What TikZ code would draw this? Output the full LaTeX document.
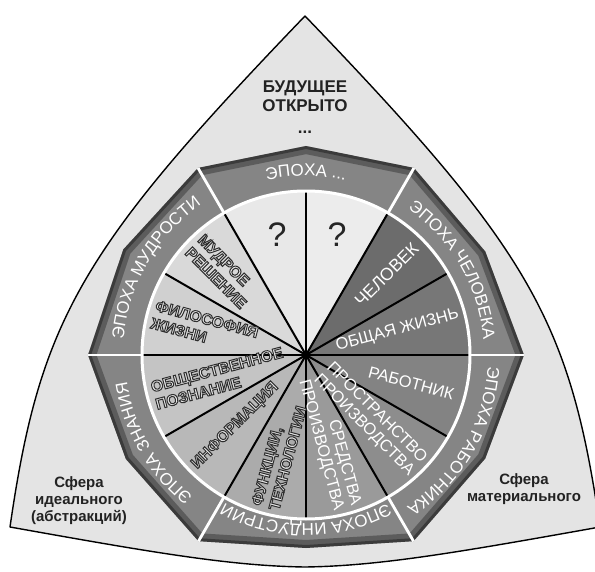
\documentclass[tikz,border=0pt]{standalone}
\usepackage{fontspec}
\setmainfont{Liberation Sans}
\usetikzlibrary{decorations.text}
\definecolor{trifill}{HTML}{E4E4E4}
\definecolor{bandA}{gray}{0.52}
\definecolor{bandB}{gray}{0.36}
\definecolor{bandC}{gray}{0.16}
\definecolor{sA}{HTML}{777777}
\definecolor{sB}{HTML}{6C6C6C}
\definecolor{sC}{HTML}{ECECEC}
\definecolor{sD}{HTML}{E8E8E8}
\definecolor{sE}{HTML}{D9D9D9}
\definecolor{sF}{HTML}{D0D0D0}
\definecolor{sG}{HTML}{C4C4C4}
\definecolor{sH}{HTML}{B8B8B8}
\definecolor{sI}{HTML}{ABABAB}
\definecolor{sJ}{HTML}{9A9A9A}
\definecolor{sK}{HTML}{8D8D8D}
\definecolor{sL}{HTML}{838383}
\definecolor{holfill}{HTML}{E8E8E8}
\definecolor{lbltext}{HTML}{222222}
\pgfdeclareradialshading{bandshade}{\pgfpoint{0bp}{0bp}}{color(0bp)=(bandA); color(42bp)=(bandA); color(45bp)=(bandB); color(48bp)=(bandC); color(50bp)=(black)}
% hollow (outlined) letters: fill light, stroke dark
\newcommand\hol[1]{{\color{holfill}\special{pdf:literal direct 2 Tr 1 w 0.18 G}#1\special{pdf:literal direct 0 Tr}}}
\newcommand\secfont{\fontsize{16.5}{18}\selectfont}
\newcommand\holfont{\bfseries\fontsize{15.5}{18}\selectfont}
\newcommand\epfont{\fontsize{17}{17}\selectfont}
\tikzset{
  wt/.style={text=white, font=\secfont, inner sep=0pt, align=right, anchor=east},
  ht/.style={font=\holfont, inner sep=0pt, align=left, anchor=west},
  spoke/.style={draw=black, line width=2pt},
  sepline/.style={draw=white, line width=2.8pt},
  qm/.style={font=\fontsize{34}{34}\selectfont, text=black!85, inner sep=0pt},
  lbl/.style={font=\bfseries\fontsize{17}{20}\selectfont, text=lbltext, inner sep=0pt, anchor=base},
  slbl/.style={font=\bfseries\fontsize{15}{17}\selectfont, text=lbltext, inner sep=0pt, anchor=base},
  epoch/.style={decorate, decoration={text along path, text align=center, text color=white, text={|\epfont|#1}}}
}
\begin{document}
\begin{tikzpicture}[x=1pt,y=1pt]
\useasboundingbox (-306,-216) rectangle (289,355);
\clip (-306,-216) rectangle (289,355);
% outer curved triangle
\filldraw[fill=trifill, draw=black, line width=1.4pt, line join=round]
 (-1,339) .. controls (-226,105) and (-266,35) .. (-296,-172)
 .. controls (-156,-197) and (-76,-211) .. (-1,-212)
 .. controls (74,-211) and (154,-197) .. (294,-172)
 .. controls (264,35) and (224,105) .. (-1,339) -- cycle;
% epoch band
\begin{scope}
\clip (0:218) -- (30:207) -- (60:216) -- (90:209) -- (120:216) -- (150:211) -- (180:218) -- (210:208) -- (240:215) -- (270:193) -- (300:215) -- (330:207) -- cycle;
\shade[shading=bandshade] (0,0) circle (219);
\draw[black, opacity=0.3, line width=16pt, line join=miter] (0:218) -- (30:207) -- (60:216) -- (90:209) -- (120:216) -- (150:211) -- (180:218) -- (210:208) -- (240:215) -- (270:193) -- (300:215) -- (330:207) -- cycle;
\draw[black, opacity=0.35, line width=6pt, line join=miter] (0:218) -- (30:207) -- (60:216) -- (90:209) -- (120:216) -- (150:211) -- (180:218) -- (210:208) -- (240:215) -- (270:193) -- (300:215) -- (330:207) -- cycle;
\end{scope}
% sectors
\foreach \a/\c in {0/sA,30/sB,60/sC,90/sD,120/sE,150/sF,180/sG,210/sH,240/sI,270/sJ,300/sK,330/sL}
  \fill[\c] (0,0) -- (\a:164) arc[start angle=\a, end angle=\a+30, radius=164] -- cycle;
\foreach \a in {0,30,...,330}
  \draw[spoke] (0,0) -- (\a:164);
\fill[black] (0,0) circle (4.5);
\draw[white, line width=3pt] (0,0) circle (164);
\foreach \a/\r in {0/218,60/216,120/216,180/218,240/215,300/215}
  \draw[sepline] (\a:164) -- (\a:\r);
% epoch texts along the band
\path[epoch={ЭПОХА ...}] (122:179) arc[start angle=122, end angle=58, radius=179];
\path[epoch={ЭПОХА ЧЕЛОВЕКА}] (60:178) arc[start angle=60, end angle=0, radius=178];
\path[epoch={ЭПОХА РАБОТНИКА}] (0:182) arc[start angle=0, end angle=-60, radius=182];
\path[epoch={ЭПОХА ИНДУСТРИИ}] (-60:169) arc[start angle=-60, end angle=-120, radius=169];
\path[epoch={ЭПОХА ЗНАНИЯ}] (-120:181) arc[start angle=-120, end angle=-180, radius=181];
\path[epoch={ЭПОХА МУДРОСТИ}] (180:183) arc[start angle=180, end angle=120, radius=183];
% sector texts, white
\node[wt, rotate=45, font=\fontsize{17.5}{18}\selectfont] (chel) at (45:155) {ЧЕЛОВЕК};
\node[wt, rotate=15] (obzh) at (15:158) {ОБЩАЯ ЖИЗНЬ};
\node[wt, rotate=-15] (rab) at (-15:153) {РАБОТНИК};
\node[wt, rotate=-45] (prost) at (-45:158) {ПРОСТРАНСТВО\\ПРОИЗВОДСТВА};
\node[wt, rotate=-75] (sred) at (-75:158) {СРЕДСТВА\\ПРОИЗВОДСТВА};
% sector texts, hollow
\node[ht, rotate=-45] (mudr) at (135:158) {\hol{МУДРОЕ}\\\hol{РЕШЕНИЕ}};
\node[ht, rotate=-15] (filo) at (165:158) {\hol{ФИЛОСОФИЯ}\\\hol{ЖИЗНИ}};
\node[ht, rotate=15] (obsch) at (195:158) {\hol{ОБЩЕСТВЕННОЕ}\\\hol{ПОЗНАНИЕ}};
\node[ht, rotate=45] (info) at (225:158) {\hol{ИНФОРМАЦИЯ}};
\node[ht, rotate=75] (func) at (255:158) {\hol{ФУНКЦИИ,}\\\hol{ТЕХНОЛОГИИ}};
% question marks
\node[qm] (q1) at (-29,120) {?};
\node[qm] (q2) at (31,120) {?};
% outer labels
\node[lbl] (fut1) at (-1,262) {БУДУЩЕЕ};
\node[lbl] (fut2) at (-1,243) {ОТКРЫТО};
\node[lbl] (fut3) at (-1,222) {...};
\node[slbl] (id1) at (-227,-132) {Сфера};
\node[slbl] (id2) at (-227,-149) {идеального};
\node[slbl] (id3) at (-227,-166) {(абстракций)};
\node[slbl] (mat1) at (218,-129) {Сфера};
\node[slbl] (mat2) at (218,-146) {материального};
\end{tikzpicture}
\end{document}
